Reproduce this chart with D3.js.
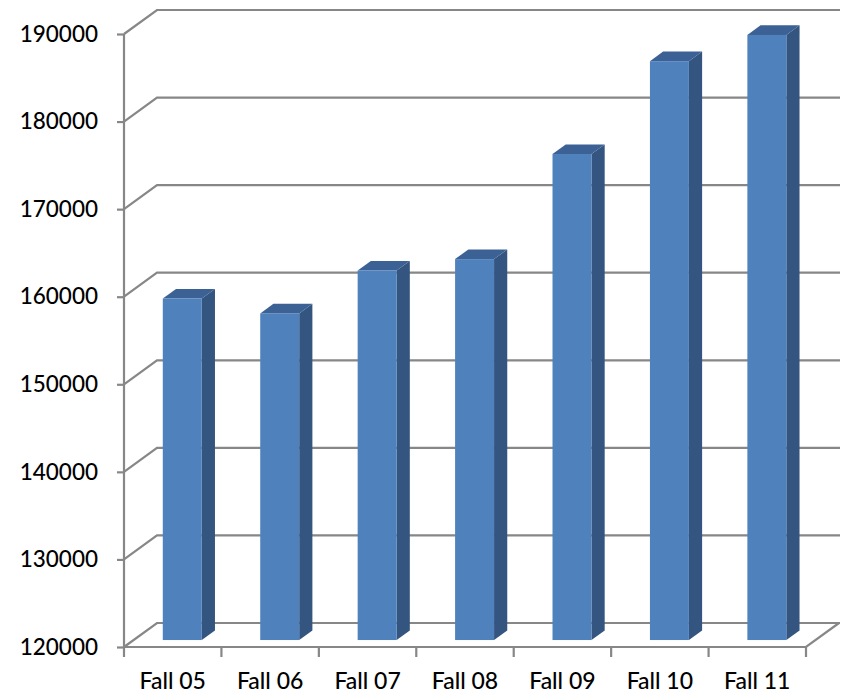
<!DOCTYPE html>
<html>
<head>
<meta charset="utf-8">
<script src="https://cdn.jsdelivr.net/npm/d3@7"></script>
<style>
  html, body { margin: 0; padding: 0; background: #ffffff; }
  svg { display: block; }
  text { font-family: Lato, "Open Sans", sans-serif; fill: #000; }
</style>
</head>
<body>
<svg id="chart" width="842" height="694"></svg>
<script>
const categories = ["Fall 05", "Fall 06", "Fall 07", "Fall 08", "Fall 09", "Fall 10", "Fall 11"];
const values = [159000, 157300, 162200, 163500, 175500, 186100, 189100];
const yTicks = [120000, 130000, 140000, 150000, 160000, 170000, 180000, 190000];

const svg = d3.select("#chart");
const x0 = 124, x1 = 806, yTop = 34, yBot = 647;
const depthX = 33, depthY = -24;
const rightEnd = 840;

const y = d3.scaleLinear().domain([120000, 190000]).range([yBot, yTop]);
const x = d3.scaleBand().domain(categories).range([x0, x1]).padding(0);

const gridColor = "#878787";
const g = svg.append("g");

// back wall gridlines with diagonal to front axis
yTicks.forEach(v => {
  const yy = y(v);
  g.append("path")
    .attr("d", `M${x0},${yy} L${x0 + depthX},${yy + depthY} L${rightEnd},${yy + depthY}`)
    .attr("fill", "none").attr("stroke", gridColor).attr("stroke-width", 2.2);
});
// floor front and right edge
g.append("path")
  .attr("d", `M${x0},${yBot} L${x1},${yBot} L${x1 + depthX},${yBot + depthY}`)
  .attr("fill", "none").attr("stroke", gridColor).attr("stroke-width", 2.2);

// y axis
const yAxis = d3.axisLeft(y).tickValues(yTicks).tickFormat(d3.format("d")).tickSize(7).tickPadding(19);
const ya = svg.append("g").attr("transform", `translate(${x0},0)`).call(yAxis);
ya.select(".domain").attr("stroke", gridColor).attr("stroke-width", 2.2).attr("d", `M0,${yTop}V${yBot}`);
ya.selectAll(".tick line").attr("stroke", gridColor).attr("stroke-width", 2.2);
ya.selectAll(".tick text").style("font-size", "22.5px").style("font-weight", 500).attr("fill", "#000");

// x axis ticks at band boundaries
const boundaries = categories.map(c => x(c)).concat([x1]);
svg.append("g").selectAll("line").data(boundaries).join("line")
  .attr("x1", d => d).attr("x2", d => d)
  .attr("y1", yBot).attr("y2", yBot + 10)
  .attr("stroke", gridColor).attr("stroke-width", 2.2);
svg.append("g").selectAll("text").data(categories).join("text")
  .attr("x", d => x(d) + x.bandwidth() / 2)
  .attr("y", 689)
  .attr("text-anchor", "middle")
  .style("font-size", "23px")
  .style("font-weight", 500)
  .text(d => d);

// 3D bars
const bw = x.bandwidth() * 0.4;
const dFront = 0.29, dDepth = 0.40;
const fdx = depthX * dFront, fdy = depthY * dFront;
const sdx = depthX * dDepth, sdy = depthY * dDepth;

const bars = svg.append("g").selectAll("g").data(categories.map((c, i) => ({ c, v: values[i] }))).join("g");
bars.each(function(d) {
  const gg = d3.select(this);
  const left = x(d.c) + (x.bandwidth() - bw) / 2 + fdx;
  const right = left + bw;
  const top = y(d.v) + fdy;
  const bottom = y(120000) + fdy;
  // side
  gg.append("path")
    .attr("d", `M${right},${top} L${right + sdx},${top + sdy} L${right + sdx},${bottom + sdy} L${right},${bottom} Z`)
    .attr("fill", "#34557f");
  // top
  gg.append("path")
    .attr("d", `M${left},${top} L${left + sdx},${top + sdy} L${right + sdx},${top + sdy} L${right},${top} Z`)
    .attr("fill", "#3c6195");
  // front
  gg.append("rect")
    .attr("x", left).attr("y", top)
    .attr("width", bw).attr("height", bottom - top)
    .attr("fill", "#4f81bd");
});
</script>
</body>
</html>
